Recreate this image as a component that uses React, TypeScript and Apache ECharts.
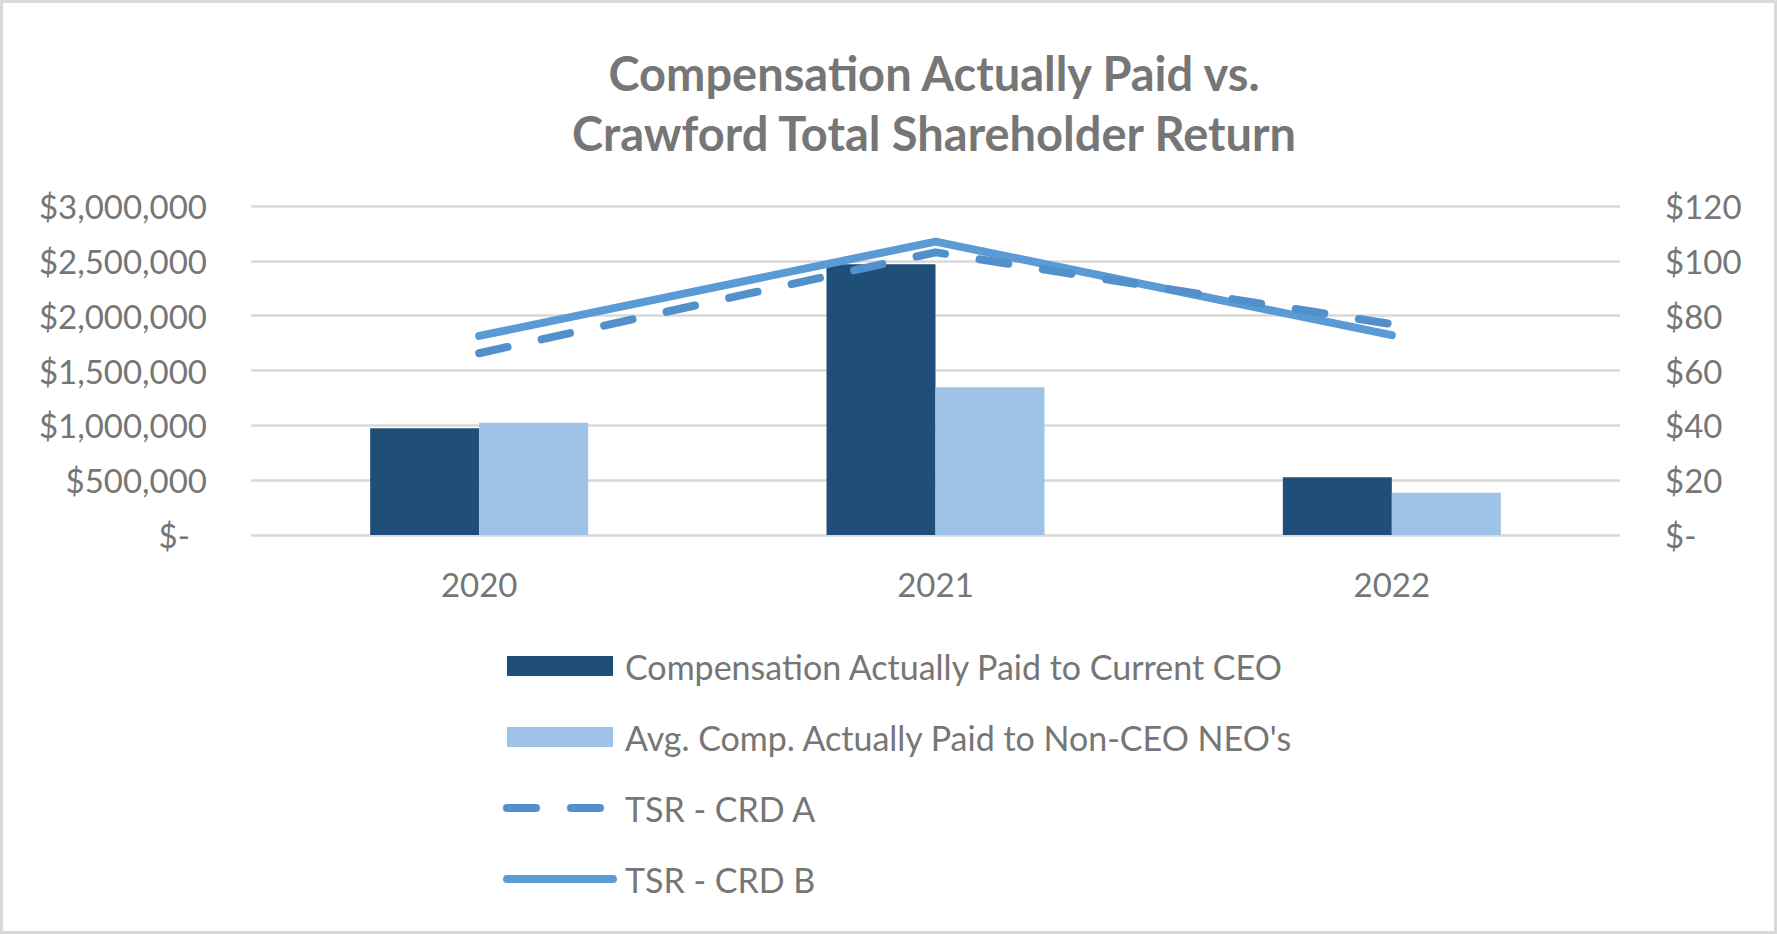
import React, { useEffect, useRef } from "react";
import * as echarts from "echarts";

const categories = ["2020", "2021", "2022"];
const ceoComp = [973000, 2468000, 526000];
const neoComp = [1024000, 1347000, 386000];
const tsrA = [66.3, 103.1, 76.9];
const tsrB = [72.6, 107.0, 72.9];

const titleLines = ["Compensation Actually Paid vs.", "Crawford Total Shareholder Return"];
const seriesNames = [
  "Compensation Actually Paid to Current CEO",
  "Avg. Comp. Actually Paid to Non-CEO NEO's",
  "TSR - CRD A",
  "TSR - CRD B",
];

const FONT = "Lato";
const TEXT = "#767676";
const DASH_COLOR = "#5290cb";
const SOLID_COLOR = "#5b9bd5";
const DASH = [29, 35];

function fmtMoney(v: number) {
  if (v === 0) return "{z|$-}";
  return "$" + v.toLocaleString("en-US");
}

export default function App() {
  const ref = useRef<HTMLDivElement>(null);
  useEffect(() => {
    if (!ref.current) return;
    const chart = echarts.init(ref.current, null, { renderer: "svg" });
    const labelBase = { color: TEXT, fontFamily: FONT, fontSize: 33 };
    chart.setOption({
      animation: false,
      backgroundColor: "#ffffff",
      textStyle: { fontFamily: FONT },
      title: {
        text: titleLines.join("\n"),
        left: 929,
        top: 38,
        textAlign: "center",
        textStyle: { color: TEXT, fontFamily: FONT, fontWeight: "bold", fontSize: 47, lineHeight: 60 },
      },
      graphic: [
        {
          type: "rect",
          shape: { x: 1.5, y: 1.5, width: 1774, height: 931 },
          style: { fill: "none", stroke: "#d9d9d9", lineWidth: 3 },
          silent: true,
        },
      ],
      grid: { left: 251, right: 157, top: 206, bottom: 399, containLabel: false },
      legend: {
        orient: "vertical",
        left: 503,
        top: 649,
        padding: 0,
        itemWidth: 106,
        itemHeight: 20,
        itemGap: 37,
        textStyle: { ...labelBase, fontSize: 34, lineHeight: 30, padding: [0, 0, 0, 7] },
        data: [
          { name: seriesNames[0], icon: "rect" },
          { name: seriesNames[1], icon: "rect" },
          {
            name: seriesNames[2],
            itemStyle: { opacity: 0 },
            lineStyle: { color: DASH_COLOR, width: 8, type: DASH, cap: "round" },
          },
          {
            name: seriesNames[3],
            itemStyle: { opacity: 0 },
            lineStyle: { color: SOLID_COLOR, width: 8, type: "solid", cap: "round" },
          },
        ],
      },
      xAxis: {
        type: "category",
        data: categories,
        axisLine: { show: false },
        axisTick: { show: false },
        axisLabel: { ...labelBase, margin: 32 },
      },
      yAxis: [
        {
          type: "value",
          min: 0,
          max: 3000000,
          interval: 500000,
          axisLine: { show: false },
          axisTick: { show: false },
          splitLine: { lineStyle: { color: "#d9d9d9", width: 2.5 } },
          axisLabel: {
            ...labelBase,
            margin: 44,
            formatter: fmtMoney,
            rich: { z: { ...labelBase, padding: [0, 17, 0, 0] } },
          },
        },
        {
          type: "value",
          min: 0,
          max: 120,
          interval: 20,
          axisLine: { show: false },
          axisTick: { show: false },
          splitLine: { show: false },
          axisLabel: {
            ...labelBase,
            margin: 45,
            formatter: (v: number) => (v === 0 ? "$-" : "$" + v),
          },
        },
      ],
      series: [
        {
          name: seriesNames[0],
          type: "bar",
          data: ceoComp,
          barWidth: 109,
          barGap: "0%",
          itemStyle: { color: "#1f4e79" },
          z: 1,
        },
        {
          name: seriesNames[1],
          type: "bar",
          data: neoComp,
          barWidth: 109,
          barGap: "0%",
          itemStyle: { color: "#9dc3e6" },
          z: 1,
        },
        {
          name: seriesNames[2],
          type: "line",
          yAxisIndex: 1,
          data: tsrA,
          symbol: "none",
          itemStyle: { color: DASH_COLOR },
          lineStyle: { color: DASH_COLOR, width: 8, type: DASH, cap: "round", join: "round" },
          z: 4,
        },
        {
          name: seriesNames[3],
          type: "line",
          yAxisIndex: 1,
          data: tsrB,
          symbol: "none",
          itemStyle: { color: SOLID_COLOR },
          lineStyle: { color: SOLID_COLOR, width: 8, cap: "round", join: "round" },
          z: 3,
        },
      ],
    });
    return () => chart.dispose();
  }, []);
  return (
    <div
      ref={ref}
      style={{ position: "absolute", left: 0, top: 0, width: 1777, height: 934 }}
    />
  );
}
